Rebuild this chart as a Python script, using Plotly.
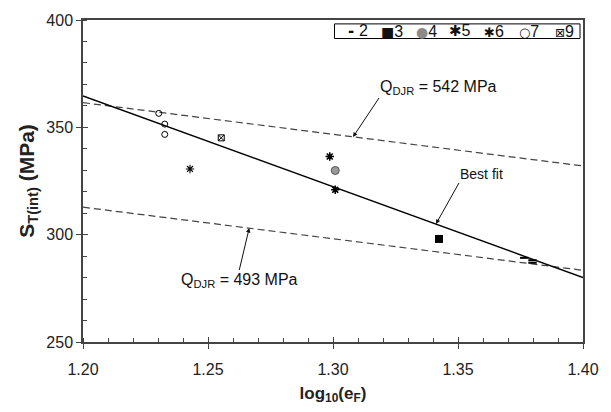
import plotly.graph_objects as go

# ---- data ----
x_range = [1.20, 1.40]
y_range = [250, 400]

s2_x = [1.3765, 1.3798, 1.3798]
s2_y = [289.2, 288.1, 286.9]
s3_x = [1.3424]
s3_y = [298.0]
s4_x = [1.3009]
s4_y = [329.9]
s5_x = [1.2987, 1.3009]
s5_y = [336.4, 320.9]
s6_x = [1.2428]
s6_y = [330.6]
s7_x = [1.2303, 1.2327, 1.2327]
s7_y = [356.5, 351.5, 346.7]
s9_x = [1.2553]
s9_y = [345.1]

fit_x = [1.20, 1.40]
fit_y = [364.6, 280.0]
q542_x = [1.20, 1.40]
q542_y = [361.5, 332.0]
q493_x = [1.20, 1.40]
q493_y = [312.8, 283.4]

legend_names = ["2", "3", "4", "5", "6", "7", "9"]
G = "font-family:DejaVu Sans"
legend_glyphs = [
    f"<span style='{G};font-size:15px'><b>-</b> </span>",
    f"<span style='{G};font-size:14px'>■</span>",
    f"<span style='{G};font-size:14px;color:#8a8a8a'>●</span>",
    f"<span style='{G};font-size:15px'>✱</span>",
    f"<span style='{G};font-size:13px'>✱</span>",
    f"<span style='{G};font-size:13px'>○</span>",
    f"<span style='{G};font-size:12px'>⊠</span>",
]

FONT = "Liberation Sans, Arial, sans-serif"

fig = go.Figure()

# lines (best fit drawn on the overlay axes, which share the same ranges)
fig.add_trace(go.Scatter(x=fit_x, y=fit_y, mode="lines", line=dict(color="black", width=1.4),
                         showlegend=False, hoverinfo="skip", xaxis="x2", yaxis="y2"))
fig.add_trace(go.Scatter(x=q542_x, y=q542_y, mode="lines", line=dict(color="#444", width=1.2, dash="7px,4px"),
                         showlegend=False, hoverinfo="skip"))
fig.add_trace(go.Scatter(x=q493_x, y=q493_y, mode="lines", line=dict(color="#444", width=1.2, dash="7px,4px"),
                         showlegend=False, hoverinfo="skip"))

series = [
    (s2_x, s2_y, dict(symbol="line-ew-open", size=6, color="black", line=dict(color="black", width=2))),
    (s3_x, s3_y, dict(symbol="square", size=8, color="black", line=dict(width=0))),
    (s4_x, s4_y, dict(symbol="circle", size=8, color="#999999", line=dict(color="#555", width=1))),
    (s5_x, s5_y, dict(symbol="asterisk-open", size=7, color="black", line=dict(color="black", width=1.6))),
    (s6_x, s6_y, dict(symbol="asterisk-open", size=7, color="black", line=dict(color="black", width=1.1))),
    (s7_x, s7_y, dict(symbol="circle-open", size=6, color="black", line=dict(color="black", width=1))),
    (s9_x, s9_y, dict(symbol="square-x-open", size=6, color="black", line=dict(color="black", width=1))),
]
for name, (xs, ys, mk) in zip(legend_names, series):
    fig.add_trace(go.Scatter(x=xs, y=ys, mode="markers", name=name, marker=mk, showlegend=False))

q_font = dict(family=FONT, size=16, color="#111")
b_font = dict(family=FONT, size=14, color="#111")
arrow = dict(showarrow=True, arrowhead=2, arrowsize=0.9, arrowwidth=1, arrowcolor="#111")
annotations = [
    dict(x=1.308, y=345.5, ax=26, ay=-39, text="Q<sub>DJR</sub> = 542 MPa",
         xanchor="left", yanchor="bottom", font=q_font, borderpad=0, **arrow),
    dict(x=1.3412, y=305.0, ax=23, ay=-41, text="Best fit",
         xanchor="left", yanchor="bottom", font=b_font, borderpad=0, **arrow),
    dict(x=1.2665, y=303.1, ax=-10, ay=42, text="Q<sub>DJR</sub> = 493 MPa",
         xanchor="center", yanchor="top", font=q_font, borderpad=0, **arrow),
]

# legend (drawn as a boxed row of entries, top right)
leg_left, leg_right, leg_top, leg_bot = 0.503, 0.994, 0.9879, 0.9425
leg_centers = [0.5503, 0.6183, 0.6864, 0.7544, 0.8225, 0.8915, 0.9625]
for g, n, cx in zip(legend_glyphs, legend_names, leg_centers):
    annotations.append(dict(xref="paper", yref="paper", x=cx, y=(leg_top + leg_bot) / 2,
                            text=f"{g}{n}", showarrow=False,
                            xanchor="center", yanchor="middle",
                            font=dict(family=FONT, size=16, color="#111")))

shapes = [dict(type="rect", xref="paper", yref="paper", x0=leg_left, x1=leg_right, y0=leg_bot, y1=leg_top,
               line=dict(color="black", width=1), fillcolor="white", layer="below")]

axis_common = dict(
    showgrid=False, zeroline=False, showline=True, linecolor="#444", linewidth=1.5, mirror=True,
    ticks="outside", ticklen=5, tickwidth=1, tickcolor="#444",
    tickfont=dict(family=FONT, size=16, color="#222"),
)

fig.update_layout(
    width=611, height=412,
    margin=dict(l=83, r=21, t=15, b=67),
    paper_bgcolor="white", plot_bgcolor="white",
    font=dict(family=FONT, color="#222"),
    xaxis=dict(range=x_range, dtick=0.05, tickformat=".2f", ticklabelstandoff=7,
               minor=dict(dtick=0.01, ticks="inside", ticklen=4, tickcolor="#444"),
               title=dict(text="<b>log<sub>10</sub>(e<sub>F</sub>)</b>", font=dict(family=FONT, size=17, color="#222"), standoff=10),
               **axis_common),
    yaxis=dict(range=y_range, dtick=50,
               minor=dict(dtick=10, ticks="inside", ticklen=4, tickcolor="#444"),
               title=dict(text="<b>S<sub>T(int)</sub> (MPa)</b>", font=dict(family=FONT, size=21, color="#222"), standoff=6),
               **axis_common),
    xaxis2=dict(overlaying="x", anchor="y", side="bottom", range=x_range, dtick=0.05, ticks="inside", ticklen=5,
                tickcolor="#444", showticklabels=False, showline=False, showgrid=False, zeroline=False),
    yaxis2=dict(overlaying="y", anchor="x", side="left", range=y_range, dtick=50, ticks="inside", ticklen=5,
                tickcolor="#444", showticklabels=False, showline=False, showgrid=False, zeroline=False),
    annotations=annotations,
    shapes=shapes,
    showlegend=False,
)

fig.write_html("out.html")
